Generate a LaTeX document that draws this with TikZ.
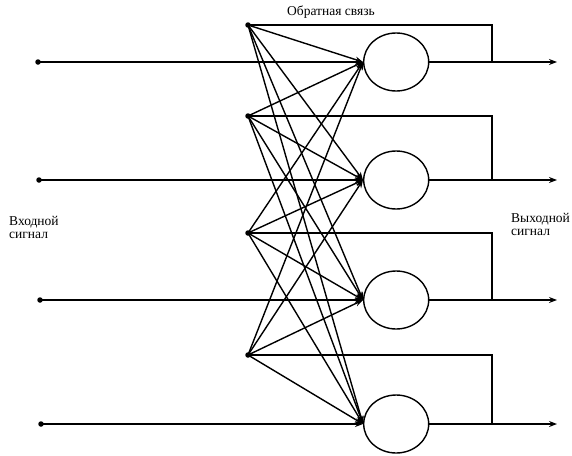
\documentclass[tikz,border=0pt]{standalone}
\usepackage{fontspec}
\setmainfont{Liberation Serif}
\usetikzlibrary{arrows.meta,shapes.geometric}
\begin{document}
\begin{tikzpicture}[x=1pt,y=-1pt,
  wire/.style={line width=1.4pt,black},
  arr/.style={wire,-{Stealth[length=8pt,width=6pt]}},
  dotnode/.style={circle,fill=black,inner sep=0pt,minimum size=5.5pt},
  neuron/.style={ellipse,draw,line width=1.4pt,minimum width=65pt,minimum height=58pt,inner sep=0pt,anchor=west},
  lbl/.style={font=\fontsize{13.5}{13}\selectfont,inner sep=0pt,align=left}]
\useasboundingbox (0,0) rectangle (572,455);
% neurons, input points, output ends
\foreach \i/\y in {1/62,2/180,3/300,4/424}{
  \coordinate (p\i) at (363,\y);
  \node[neuron] (n\i) at (p\i) {};
  \coordinate (o\i) at (557,\y);
  \coordinate (v\i) at (492,\y);
}
% input dots
\node[dotnode] (in1) at (38,62) {};
\node[dotnode] (in2) at (39,180) {};
\node[dotnode] (in3) at (40,300) {};
\node[dotnode] (in4) at (41,424) {};
% feedback dots
\foreach \i/\f in {1/25,2/116,3/233,4/355}{
  \node[dotnode] (f\i) at (248,\f) {};
  \coordinate (c\i) at (492,\f);
}
% input lines
\foreach \i in {1,2,3,4}{
  \draw[arr] (in\i.center) -- (p\i);
  \draw[arr] (n\i.east) -- (o\i);
  \draw[wire] (v\i) -- (c\i) -- (f\i.center);
}
% feedback connections
\foreach \a in {1,2,3,4}{
  \foreach \b in {1,2,3,4}{
    \draw[arr] (f\a.center) -- (p\b);
  }
}
% labels
\node[lbl,anchor=base] (tfb) at (331,16) {Обратная связь};
\node[lbl,anchor=base west] (tin) at (9,238) {Входной\\сигнал};
\node[lbl,anchor=base west] (tout) at (511,235) {Выходной\\сигнал};
\end{tikzpicture}
\end{document}
